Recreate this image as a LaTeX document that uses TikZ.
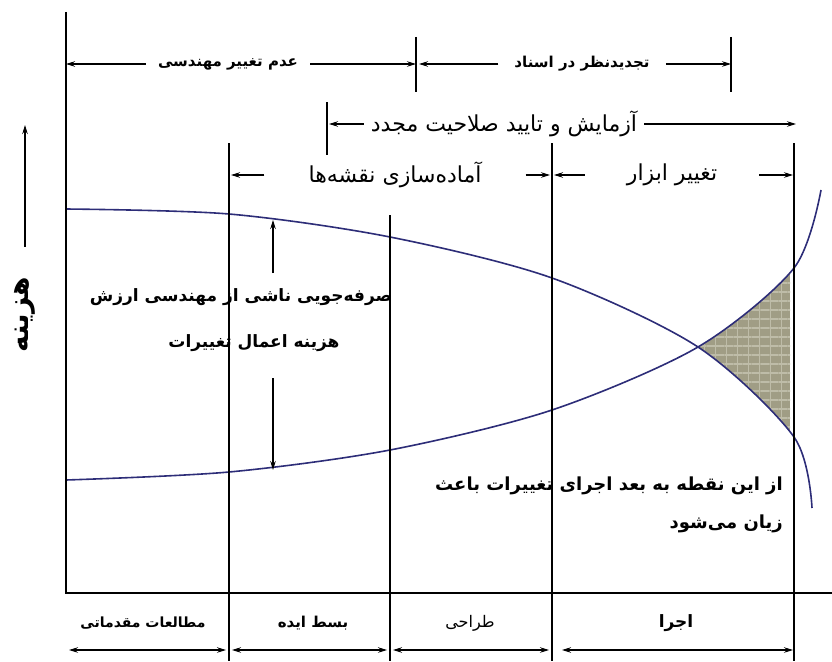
\documentclass[tikz,border=0pt]{standalone}
\usepackage{fontspec}
\newfontfamily\farsi[Script=Arabic]{DejaVu Sans}
\TeXXeTstate=1
\usetikzlibrary{arrows.meta,patterns.meta}
\definecolor{costblue}{RGB}{45,45,120}
\definecolor{lossfill}{RGB}{160,157,133}
\definecolor{lossgrid}{RGB}{190,188,168}
\newcommand{\fa}[1]{\beginR #1\endR}

\begin{document}
\begin{tikzpicture}[x=1pt, y=-1pt,
    dim/.style={-{Stealth[length=9pt,width=5.5pt]}, line width=1.1pt},
    both/.style={{Stealth[length=9pt,width=5.5pt]}-{Stealth[length=9pt,width=5.5pt]}, line width=1.1pt},
    guide/.style={line width=1.3pt},
    costcurve/.style={line width=1.6pt, costblue},
    titr/.style={font=\farsi\bfseries\fontsize{15}{18}\selectfont, inner sep=0pt},
    plain/.style={font=\farsi\fontsize{22}{26}\selectfont, inner sep=0pt},
    note/.style={font=\farsi\bfseries\fontsize{17}{38}\selectfont, inner sep=0pt}]
    \useasboundingbox (0,0) rectangle (832,661);

    % Loss region (between the curves, right of the crossing)
    \begin{scope}
        \clip plot[smooth] coordinates {(66,480) (229,472) (390,450) (552,410) (698,347) (794,268) (821,190)}
            -- (821,661) -- (66,661) -- cycle;
        \clip plot[smooth] coordinates {(66,209) (229,214) (390,237) (552,278) (698,347) (794,437) (812,508)}
            -- (812,0) -- (66,0) -- cycle;
        \fill[lossfill] (690,0) rectangle (790,661);
        \fill[pattern={Lines[distance=9pt,angle=0,line width=1.2pt]}, pattern color=lossgrid] (690,0) rectangle (790,661);
        \fill[pattern={Lines[distance=11pt,angle=90,line width=0.8pt]}, pattern color=lossgrid] (690,0) rectangle (790,661);
    \end{scope}

    % Cost curves
    \draw[costcurve] plot[smooth] coordinates {(66,209) (229,214) (390,237) (552,278) (698,347) (794,437) (812,508)};
    \draw[costcurve] plot[smooth] coordinates {(66,480) (229,472) (390,450) (552,410) (698,347) (794,268) (821,190)};

    % Axes and phase borders
    \draw[guide] (66,12) -- (66,593) -- (832,593);
    \draw[guide] (229,143) -- (229,661);
    \draw[guide] (390,215) -- (390,661);
    \draw[guide] (552,143) -- (552,661);
    \draw[guide] (794,143) -- (794,661);
    \draw[guide] (416,37) -- (416,92);
    \draw[guide] (731,37) -- (731,92);
    \draw[guide] (327,102) -- (327,155);

    % Vertical axis label
    \node[font=\farsi\bfseries\fontsize{28}{30}\selectfont, rotate=90, inner ysep=0pt, inner xsep=30pt] (cost) at (25,315) {\fa{هزینه}};
    \coordinate (costtip) at (25,125);
    \draw[dim] (cost) -- (costtip);

    % Row 1
    \coordinate (a0) at (66,64);
    \coordinate (a1) at (416,64);
    \coordinate (a2) at (419,64);
    \coordinate (a3) at (731,64);
    \node[titr, inner xsep=12pt] (nochange) at (228,64) {\fa{عدم تغییر مهندسی}};
    \node[titr, inner xsep=16pt] (revise) at (582,64) {\fa{تجدیدنظر در اسناد}};
    \draw[dim] (nochange) -- (a0);
    \draw[dim] (nochange) -- (a1);
    \draw[dim] (revise) -- (a2);
    \draw[dim] (revise) -- (a3);

    % Row 2
    \coordinate (b0) at (329,124);
    \coordinate (b1) at (796,124);
    \node[plain, inner xsep=7pt] (requal) at (504,124) {\fa{آزمایش و تایید صلاحیت مجدد}};
    \draw[dim] (requal) -- (b0);
    \draw[dim] (requal) -- (b1);

    % Row 3
    \coordinate (c0) at (231,175);
    \coordinate (c1) at (550,175);
    \coordinate (c2) at (554,175);
    \coordinate (c3) at (793,175);
    \node[plain, inner xsep=44pt] (drawings) at (395,175) {\fa{آماده‌سازی نقشه‌ها}};
    \node[plain, inner xsep=42pt] (tooling) at (672,175) {\fa{تغییر ابزار}};
    \draw[dim] (drawings) -- (c0);
    \draw[dim] (drawings) -- (c1);
    \draw[dim] (tooling) -- (c2);
    \draw[dim] (tooling) -- (c3);

    % Gap between the curves
    \node[note] (saving) at (241,297) {\fa{صرفه‌جویی ناشی از مهندسی ارزش}};
    \node[note] (changecost) at (254,343) {\fa{هزینه اعمال تغییرات}};
    \coordinate (s0) at (273,273);
    \coordinate (s1) at (273,220);
    \coordinate (s2) at (273,378);
    \coordinate (s3) at (273,470);
    \draw[dim] (s0) -- (s1);
    \draw[dim] (s2) -- (s3);

    % Loss note
    \node[note, font=\farsi\bfseries\fontsize{18}{38}\selectfont, align=right, anchor=north east] (loss) at (783,477)
        {\fa{از این نقطه به بعد اجرای تغییرات باعث}\\\fa{زیان می‌شود}};

    % Phases
    \node[titr, font=\farsi\bfseries\fontsize{14}{18}\selectfont] (study) at (143,623) {\fa{مطالعات مقدماتی}};
    \node[titr] (idea) at (313,623) {\fa{بسط ایده}};
    \node[titr, font=\farsi\fontsize{16}{18}\selectfont] (design) at (470,623) {\fa{طراحی}};
    \node[titr, font=\farsi\bfseries\fontsize{17}{18}\selectfont] (exec) at (676,623) {\fa{اجرا}};
    \coordinate (d0) at (69,650);
    \coordinate (d1) at (226,650);
    \coordinate (d2) at (232,650);
    \coordinate (d3) at (387,650);
    \coordinate (d4) at (393,650);
    \coordinate (d5) at (549,650);
    \coordinate (d6) at (562,650);
    \coordinate (d7) at (793,650);
    \draw[both] (d0) -- (d1);
    \draw[both] (d2) -- (d3);
    \draw[both] (d4) -- (d5);
    \draw[both] (d6) -- (d7);
\end{tikzpicture}
\end{document}
